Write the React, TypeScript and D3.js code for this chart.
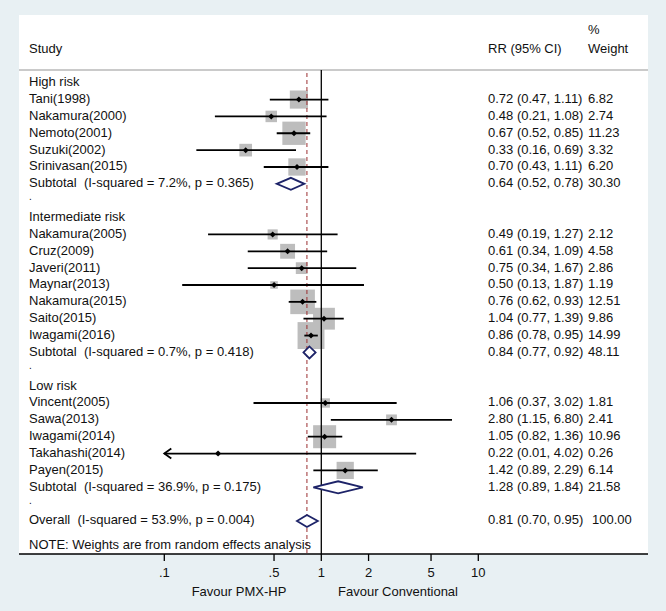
import React from "react";
import * as d3 from "d3";

const rowLabels = [
  "High risk",
  "Tani(1998)",
  "Nakamura(2000)",
  "Nemoto(2001)",
  "Suzuki(2002)",
  "Srinivasan(2015)",
  "Subtotal  (I-squared = 7.2%, p = 0.365)",
  ".",
  "Intermediate risk",
  "Nakamura(2005)",
  "Cruz(2009)",
  "Javeri(2011)",
  "Maynar(2013)",
  "Nakamura(2015)",
  "Saito(2015)",
  "Iwagami(2016)",
  "Subtotal  (I-squared = 0.7%, p = 0.418)",
  ".",
  "Low risk",
  "Vincent(2005)",
  "Sawa(2013)",
  "Iwagami(2014)",
  "Takahashi(2014)",
  "Payen(2015)",
  "Subtotal  (I-squared = 36.9%, p = 0.175)",
  ".",
  "Overall  (I-squared = 53.9%, p = 0.004)",
];

const rowTypes = [
  "group", "study", "study", "study", "study", "study", "pooled", "blank",
  "group", "study", "study", "study", "study", "study", "study", "study", "pooled", "blank",
  "group", "study", "study", "study", "study", "study", "pooled", "blank",
  "pooled",
];

const rrValues: (number | null)[] = [
  null, 0.72, 0.48, 0.67, 0.33, 0.70, 0.64, null,
  null, 0.49, 0.61, 0.75, 0.50, 0.76, 1.04, 0.86, 0.84, null,
  null, 1.06, 2.80, 1.05, 0.22, 1.42, 1.28, null,
  0.81,
];
const ciLower: (number | null)[] = [
  null, 0.47, 0.21, 0.52, 0.16, 0.43, 0.52, null,
  null, 0.19, 0.34, 0.34, 0.13, 0.62, 0.77, 0.78, 0.77, null,
  null, 0.37, 1.15, 0.82, 0.01, 0.89, 0.89, null,
  0.70,
];
const ciUpper: (number | null)[] = [
  null, 1.11, 1.08, 0.85, 0.69, 1.11, 0.78, null,
  null, 1.27, 1.09, 1.67, 1.87, 0.93, 1.39, 0.95, 0.92, null,
  null, 3.02, 6.80, 1.36, 4.02, 2.29, 1.84, null,
  0.95,
];
const weights: (number | null)[] = [
  null, 6.82, 2.74, 11.23, 3.32, 6.20, 30.30, null,
  null, 2.12, 4.58, 2.86, 1.19, 12.51, 9.86, 14.99, 48.11, null,
  null, 1.81, 2.41, 10.96, 0.26, 6.14, 21.58, null,
  100.0,
];

const tickValues = [0.1, 0.5, 1, 2, 5, 10];
const tickLabels = [".1", ".5", "1", "2", "5", "10"];
const overallRR = 0.81;

const FONT = "'Liberation Sans', Arial, Helvetica, sans-serif";
const FS = 13;

export default function App() {
  const W = 666;
  const H = 611;
  const panel = { x: 19, y: 15, w: 629, h: 539 };
  const axisY = 554;
  const x = d3.scaleLog().domain([0.1, 10]).range([164.3, 478.3]);
  const y = d3.scaleLinear().domain([0, 26]).range([82.7, 521]);
  const boxK = 6.95;
  const textX = 29;
  const ciX = 488;
  const wX = 588;

  const rows = rowLabels.map((label, i) => ({
    label,
    type: rowTypes[i],
    rr: rrValues[i],
    lo: ciLower[i],
    hi: ciUpper[i],
    w: weights[i],
    i,
  }));

  const [dmin] = x.domain();
  const txt = { fontSize: FS, dominantBaseline: "middle" as const, fill: "#111", style: { whiteSpace: "pre" as const } };

  return (
    <svg
      width={W}
      height={H}
      style={{ position: "absolute", left: 0, top: 0 }}
      fontFamily={FONT}
    >
      <rect x={0} y={0} width={W} height={H} fill="#e8f0f3" />
      <rect x={panel.x} y={panel.y} width={panel.w} height={panel.h} fill="#ffffff" />

      {/* header */}
      <text x={textX} y={50} {...txt}>Study</text>
      <text x={ciX} y={50} {...txt}>RR (95% CI)</text>
      <text x={wX} y={31} {...txt}>%</text>
      <text x={wX} y={50} {...txt}>Weight</text>
      <line x1={panel.x} x2={panel.x + panel.w} y1={70} y2={70} stroke="#b8b8b8" strokeWidth={1.5} />

      {/* boxes */}
      {rows.filter(r => r.type === "study").map(r => {
        const s = boxK * Math.sqrt(r.w as number);
        return (
          <rect key={"b" + r.i} x={x(r.rr as number) - s / 2} y={y(r.i) - s / 2} width={s} height={s} fill="#bdbdbd" />
        );
      })}

      {/* reference lines */}
      <line x1={x(1)} x2={x(1)} y1={70} y2={axisY} stroke="#000" strokeWidth={1.3} />
      <line x1={x(overallRR)} x2={x(overallRR)} y1={73} y2={axisY} stroke="#9b2d30" strokeWidth={1} strokeDasharray="4,3" />

      {/* CI lines and points */}
      {rows.filter(r => r.type === "study").map(r => {
        const lo = r.lo as number;
        const hi = r.hi as number;
        const clipped = lo < dmin;
        const x0 = x(Math.max(lo, dmin));
        const x1 = x(hi);
        const cy = y(r.i);
        const cx = x(r.rr as number);
        return (
          <g key={"c" + r.i}>
            <line x1={x0} x2={x1} y1={cy} y2={cy} stroke="#000" strokeWidth={1.8} />
            {clipped && (
              <polyline points={`${x0 + 7},${cy - 5} ${x0},${cy} ${x0 + 7},${cy + 5}`} fill="none" stroke="#000" strokeWidth={1.8} />
            )}
            <path d={`M${cx - 3},${cy} L${cx},${cy - 3} L${cx + 3},${cy} L${cx},${cy + 3} Z`} fill="#000" />
          </g>
        );
      })}

      {/* pooled diamonds */}
      {rows.filter(r => r.type === "pooled").map(r => {
        const cy = y(r.i);
        const pts = [
          [x(r.lo as number), cy],
          [x(r.rr as number), cy - 6],
          [x(r.hi as number), cy],
          [x(r.rr as number), cy + 6],
        ];
        return (
          <polygon key={"d" + r.i} points={pts.map(p => p.join(",")).join(" ")} fill="#fff" stroke="#1d2368" strokeWidth={1.8} />
        );
      })}

      {/* row texts */}
      {rows.map(r => (
        <g key={"t" + r.i}>
          {r.type === "blank" ? (
            <text x={textX} y={y(r.i) - 3} {...txt} fontSize={10}>{r.label}</text>
          ) : (
            <text x={textX} y={y(r.i)} {...txt}>{r.label}</text>
          )}
          {r.rr !== null && (
            <text x={ciX} y={y(r.i)} {...txt}>
              {`${(r.rr as number).toFixed(2)} (${(r.lo as number).toFixed(2)}, ${(r.hi as number).toFixed(2)})`}
            </text>
          )}
          {r.w !== null && (
            <text x={r.i === 26 ? wX + 4 : wX} y={y(r.i)} {...txt}>
              {(r.w as number).toFixed(2)}
            </text>
          )}
        </g>
      ))}

      <text x={textX} y={546} {...txt}>NOTE: Weights are from random effects analysis</text>

      {/* axis */}
      <line x1={panel.x} x2={panel.x + panel.w} y1={axisY} y2={axisY} stroke="#000" strokeWidth={1.3} />
      {tickValues.map((t, k) => (
        <g key={"k" + k}>
          <line x1={x(t)} x2={x(t)} y1={axisY} y2={axisY + 7} stroke="#000" strokeWidth={1.3} />
          <text x={x(t)} y={574} {...txt} textAnchor="middle">{tickLabels[k]}</text>
        </g>
      ))}
      <text x={239} y={593} {...txt} textAnchor="middle">Favour PMX-HP</text>
      <text x={398} y={593} {...txt} textAnchor="middle">Favour Conventional</text>
    </svg>
  );
}
